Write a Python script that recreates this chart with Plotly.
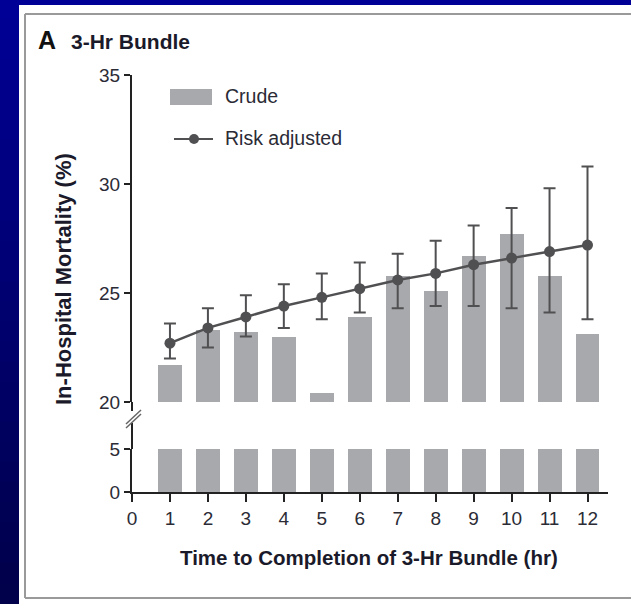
import plotly.graph_objects as go

# ---- data ----
hours = [1, 2, 3, 4, 5, 6, 7, 8, 9, 10, 11, 12]
crude = [21.7, 23.3, 23.2, 23.0, 20.4, 23.9, 25.8, 25.1, 26.7, 27.7, 25.8, 23.1]
risk_adjusted = [22.7, 23.4, 23.9, 24.4, 24.8, 25.2, 25.6, 25.9, 26.3, 26.6, 26.9, 27.2]
ci_upper = [23.6, 24.3, 24.9, 25.4, 25.9, 26.4, 26.8, 27.4, 28.1, 28.9, 29.8, 30.8]
ci_lower = [22.0, 22.5, 23.0, 23.4, 23.8, 24.1, 24.3, 24.4, 24.4, 24.3, 24.1, 23.8]
x_ticks = list(range(0, 13))
y_ticks_upper = [20, 25, 30, 35]
y_ticks_lower = [0, 5]

W, H = 631, 604
ML, MR, MT, MB = 132, 23, 75, 112
PW, PH = W - ML - MR, H - MT - MB


def px(x):
    return (x - ML) / PW


def py(y):
    return (H - MB - y) / PH


FONT = "Liberation Sans, Arial, sans-serif"
BAR_COLOR = "#a8a9ad"
LINE_COLOR = "#505052"
TXT = "#2b2b36"

err_plus = [u - v for u, v in zip(ci_upper, risk_adjusted)]
err_minus = [v - l for v, l in zip(risk_adjusted, ci_lower)]

fig = go.Figure()
# upper bars (broken axis, 20-35)
fig.add_trace(go.Bar(x=hours, y=crude, width=0.63, marker=dict(color=BAR_COLOR, line=dict(width=0)),
                     xaxis="x2", yaxis="y2", name="Crude", showlegend=False))
# lower bars (0-5)
fig.add_trace(go.Bar(x=hours, y=crude, width=0.63, marker=dict(color=BAR_COLOR, line=dict(width=0)),
                     xaxis="x", yaxis="y", name="Crude", showlegend=False))
# risk adjusted
fig.add_trace(go.Scatter(x=hours, y=risk_adjusted, mode="lines+markers", xaxis="x2", yaxis="y2",
                         line=dict(color=LINE_COLOR, width=2.5),
                         marker=dict(color=LINE_COLOR, size=11),
                         error_y=dict(type="data", array=err_plus, arrayminus=err_minus,
                                      color=LINE_COLOR, thickness=2, width=6),
                         cliponaxis=False, name="Risk adjusted", showlegend=False))

shapes = []
# blue frame: left strip and top strip with a vertical gradient
n = 30
for i in range(n):
    t = i / (n - 1)
    b = int(150 - 75 * t)
    shapes.append(dict(type="rect", xref="paper", yref="paper", layer="below",
                       x0=px(-2), x1=px(19), y0=py(H * (i + 1) / n + 1), y1=py(H * i / n - 1),
                       fillcolor=f"rgb(0,0,{b})", line=dict(width=0)))
shapes.append(dict(type="rect", xref="paper", yref="paper", layer="below",
                   x0=px(-2), x1=px(W + 5), y0=py(5), y1=py(-2),
                   fillcolor="rgb(0,0,150)", line=dict(width=0)))
# panel border (left, top, bottom)
BORDER = dict(color="#9a9a9a", width=2)
shapes.append(dict(type="line", xref="paper", yref="paper", layer="below",
                   x0=px(25), x1=px(25), y0=py(598), y1=py(14), line=BORDER))
shapes.append(dict(type="line", xref="paper", yref="paper", layer="below",
                   x0=px(25), x1=px(W + 5), y0=py(14), y1=py(14), line=BORDER))
shapes.append(dict(type="line", xref="paper", yref="paper", layer="below",
                   x0=px(25), x1=px(W + 5), y0=py(598), y1=py(598), line=BORDER))
# axis extensions around the break
shapes.append(dict(type="line", xref="paper", yref="paper", x0=0, x1=0, y0=py(411), y1=py(402),
                   line=dict(color="#222", width=2)))
shapes.append(dict(type="line", xref="paper", yref="paper", x0=0, x1=0, y0=py(449), y1=py(423),
                   line=dict(color="#222", width=2)))
# break marks
for dy in (0, 4):
    shapes.append(dict(type="line", xref="paper", yref="paper",
                       x0=px(126), x1=px(141), y0=py(424 + dy), y1=py(410 + dy),
                       line=dict(color="#666", width=1.5)))
# legend glyphs
shapes.append(dict(type="rect", xref="paper", yref="paper", x0=px(170), x1=px(212), y0=py(105), y1=py(89),
                   fillcolor=BAR_COLOR, line=dict(width=0)))
shapes.append(dict(type="line", xref="paper", yref="paper", x0=px(174), x1=px(213), y0=py(139), y1=py(139),
                   line=dict(color=LINE_COLOR, width=2)))
shapes.append(dict(type="circle", xref="paper", yref="paper", x0=px(189), x1=px(199), y0=py(144), y1=py(134),
                   fillcolor=LINE_COLOR, line=dict(width=0)))

annotations = [
    dict(text="<b>A</b>", x=px(36), y=py(40), xref="paper", yref="paper", xanchor="left", yanchor="middle",
         showarrow=False, font=dict(family=FONT, size=25, color="#111")),
    dict(text="<b>3-Hr Bundle</b>", x=px(69), y=py(41), xref="paper", yref="paper", xanchor="left",
         yanchor="middle", showarrow=False, font=dict(family=FONT, size=21, color="#1a1a2a")),
    dict(text="Crude", x=px(223), y=py(96), xref="paper", yref="paper", xanchor="left", yanchor="middle",
         showarrow=False, font=dict(family=FONT, size=19.5, color=TXT)),
    dict(text="Risk adjusted", x=px(223), y=py(138), xref="paper", yref="paper", xanchor="left",
         yanchor="middle", showarrow=False, font=dict(family=FONT, size=19.5, color=TXT)),
    dict(text="<b>In-Hospital Mortality (%)</b>", x=px(63), y=py(279), xref="paper", yref="paper",
         xanchor="center", yanchor="middle", textangle=-90, showarrow=False,
         font=dict(family=FONT, size=22, color="#1a1a2a")),
    dict(text="<b>Time to Completion of 3-Hr Bundle (hr)</b>", x=px(369), y=py(557), xref="paper",
         yref="paper", xanchor="center", yanchor="middle", showarrow=False,
         font=dict(family=FONT, size=20.5, color="#1a1a2a")),
]

axis_common = dict(showgrid=False, zeroline=False, ticks="outside", tickcolor="#222", tickwidth=2,
                   linecolor="#222", linewidth=2, tickfont=dict(family=FONT, size=19, color=TXT))

fig.update_layout(
    width=W, height=H,
    margin=dict(l=ML, r=MR, t=MT, b=MB, pad=0),
    paper_bgcolor="white", plot_bgcolor="rgba(0,0,0,0)",
    bargap=0, barmode="overlay",
    xaxis=dict(domain=[0, 1], range=[0, 12.54], tickmode="array", tickvals=x_ticks, showline=True,
               ticklen=8, anchor="y", **axis_common),
    xaxis2=dict(domain=[0, 1], range=[0, 12.54], visible=False, anchor="y2", matches="x"),
    yaxis=dict(domain=[0, py(449)], range=[0, 5], tickmode="array", tickvals=y_ticks_lower, showline=True,
               ticklen=6, anchor="x", **axis_common),
    yaxis2=dict(domain=[py(402), 1], range=[20, 35], tickmode="array", tickvals=y_ticks_upper,
                showline=True, ticklen=6, anchor="x2", **axis_common),
    shapes=shapes, annotations=annotations,
)

fig.write_html("out.html", config={"displayModeBar": False},
               post_script="document.body.style.margin='0';document.body.style.overflow='hidden';")
